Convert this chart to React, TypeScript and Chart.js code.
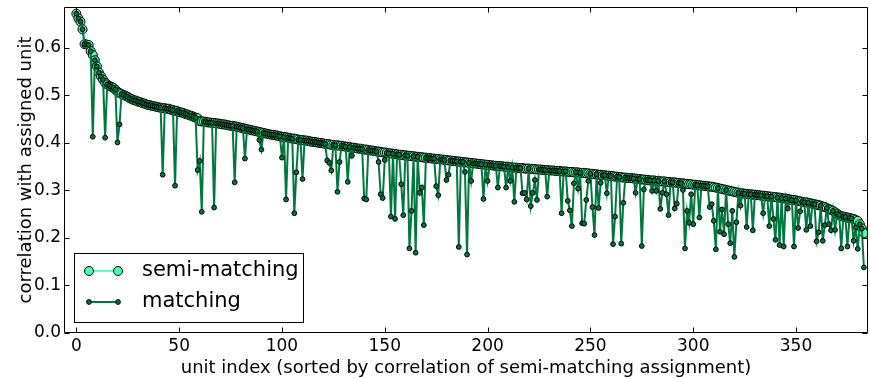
import React, { useEffect, useRef } from 'react';
import { Chart, registerables } from 'chart.js';

Chart.register(...registerables);

// semi-matching correlation, sorted (unit index 0..383)
const SEMI: number[] = [
  0.672, 0.662, 0.655, 0.639, 0.608, 0.607, 0.606, 0.593, 0.585, 0.574,
  0.561, 0.548, 0.540, 0.533, 0.527, 0.523, 0.520, 0.518, 0.516, 0.512,
  0.508, 0.505, 0.503, 0.501, 0.499, 0.497, 0.494, 0.492, 0.490, 0.489,
  0.487, 0.486, 0.484, 0.483, 0.481, 0.480, 0.479, 0.478, 0.477, 0.476,
  0.475, 0.474, 0.473, 0.473, 0.472, 0.472, 0.470, 0.469, 0.468, 0.467,
  0.465, 0.464, 0.463, 0.461, 0.460, 0.458, 0.457, 0.455, 0.453, 0.452,
  0.446, 0.445, 0.445, 0.444, 0.443, 0.443, 0.442, 0.442, 0.441, 0.441,
  0.440, 0.439, 0.439, 0.438, 0.437, 0.436, 0.436, 0.435, 0.434, 0.433,
  0.432, 0.431, 0.430, 0.429, 0.428, 0.427, 0.426, 0.425, 0.424, 0.423,
  0.422, 0.421, 0.420, 0.419, 0.418, 0.417, 0.417, 0.416, 0.415, 0.414,
  0.413, 0.412, 0.412, 0.411, 0.410, 0.409, 0.409, 0.408, 0.407, 0.406,
  0.406, 0.405, 0.405, 0.404, 0.403, 0.402, 0.402, 0.401, 0.400, 0.400,
  0.399, 0.398, 0.398, 0.397, 0.396, 0.396, 0.395, 0.395, 0.394, 0.394,
  0.393, 0.392, 0.392, 0.391, 0.390, 0.390, 0.389, 0.388, 0.388, 0.387,
  0.386, 0.386, 0.385, 0.384, 0.384, 0.383, 0.382, 0.382, 0.381, 0.380,
  0.380, 0.379, 0.378, 0.378, 0.377, 0.377, 0.376, 0.375, 0.375, 0.374,
  0.374, 0.373, 0.373, 0.372, 0.372, 0.371, 0.371, 0.370, 0.370, 0.369,
  0.369, 0.368, 0.368, 0.367, 0.367, 0.366, 0.366, 0.365, 0.365, 0.364,
  0.364, 0.363, 0.363, 0.362, 0.362, 0.361, 0.361, 0.360, 0.360, 0.359,
  0.359, 0.358, 0.358, 0.357, 0.357, 0.356, 0.356, 0.355, 0.355, 0.354,
  0.354, 0.353, 0.353, 0.352, 0.352, 0.351, 0.351, 0.351, 0.350, 0.350,
  0.349, 0.349, 0.348, 0.348, 0.348, 0.347, 0.347, 0.347, 0.346, 0.346,
  0.346, 0.345, 0.345, 0.345, 0.344, 0.344, 0.344, 0.343, 0.343, 0.343,
  0.342, 0.342, 0.342, 0.341, 0.341, 0.341, 0.340, 0.340, 0.340, 0.339,
  0.339, 0.339, 0.338, 0.338, 0.338, 0.337, 0.337, 0.337, 0.336, 0.336,
  0.335, 0.335, 0.334, 0.334, 0.333, 0.333, 0.332, 0.332, 0.331, 0.331,
  0.330, 0.330, 0.329, 0.329, 0.328, 0.328, 0.327, 0.327, 0.326, 0.326,
  0.326, 0.325, 0.325, 0.324, 0.324, 0.323, 0.323, 0.322, 0.322, 0.321,
  0.321, 0.321, 0.320, 0.320, 0.319, 0.319, 0.319, 0.318, 0.318, 0.317,
  0.317, 0.317, 0.316, 0.316, 0.315, 0.315, 0.314, 0.314, 0.313, 0.313,
  0.312, 0.312, 0.311, 0.311, 0.310, 0.310, 0.309, 0.309, 0.308, 0.308,
  0.307, 0.306, 0.305, 0.304, 0.303, 0.302, 0.301, 0.300, 0.299, 0.298,
  0.297, 0.296, 0.295, 0.294, 0.294, 0.293, 0.293, 0.292, 0.292, 0.291,
  0.291, 0.290, 0.290, 0.289, 0.289, 0.288, 0.288, 0.287, 0.287, 0.286,
  0.286, 0.285, 0.285, 0.284, 0.283, 0.283, 0.282, 0.281, 0.280, 0.280,
  0.279, 0.278, 0.277, 0.276, 0.275, 0.275, 0.274, 0.273, 0.272, 0.271,
  0.270, 0.269, 0.268, 0.266, 0.265, 0.263, 0.261, 0.259, 0.257, 0.254,
  0.251, 0.248, 0.246, 0.245, 0.244, 0.243, 0.242, 0.241, 0.240, 0.238,
  0.236, 0.229, 0.220, 0.210,
];

// units where the (one-to-one) matching assignment differs from semi-matching
const DIP_INDEX: number[] = [
  8, 14, 20, 21, 42, 48, 59, 60, 61, 67, 77, 82, 89, 90, 100, 102, 106, 107, 110,
  122, 123, 124, 127, 128, 132, 134, 140, 141, 147, 148, 149, 150, 153, 155, 158,
  159, 162, 163, 165, 167, 168, 169, 175, 176, 180, 181, 186, 189, 190, 192, 198,
  200, 205, 209, 211, 213, 217, 218, 219, 221, 222, 223, 224, 229, 236, 239, 240,
  241, 242, 244, 246, 247, 248, 249, 251, 252, 254, 255, 258, 261, 262, 265, 266,
  272, 275, 276, 280, 282, 284, 285, 287, 288, 291, 292, 295, 296, 297, 298, 299,
  300, 303, 308, 309, 310, 311, 313, 314, 315, 317, 318, 319, 320, 321, 323, 326,
  329, 334, 337, 339, 340, 342, 344, 346, 349, 351, 352, 355, 357, 360, 361, 363,
  364, 366, 367, 369, 372, 375, 378, 379, 380, 383,
];
const DIP_VALUE: number[] = [
  0.413, 0.411, 0.401, 0.439, 0.333, 0.310, 0.343, 0.362, 0.255, 0.264, 0.317, 0.367, 0.406, 0.386, 0.369, 0.281, 0.252, 0.338, 0.324,
  0.363, 0.358, 0.342, 0.297, 0.360, 0.318, 0.373, 0.283, 0.281, 0.360, 0.292, 0.284, 0.364, 0.245, 0.240, 0.313,
  0.248, 0.178, 0.257, 0.169, 0.295, 0.306, 0.227, 0.309, 0.290, 0.322, 0.333, 0.181, 0.339, 0.165, 0.320, 0.282,
  0.320, 0.306, 0.306, 0.320, 0.276, 0.294, 0.295, 0.281, 0.267, 0.295, 0.322, 0.280, 0.287, 0.252, 0.278, 0.258,
  0.225, 0.315, 0.304, 0.231, 0.230, 0.280, 0.320, 0.265, 0.206, 0.263, 0.316, 0.294, 0.187, 0.245, 0.188, 0.274,
  0.295, 0.183, 0.302, 0.299, 0.299, 0.261, 0.295, 0.292, 0.248, 0.262, 0.272, 0.301, 0.178, 0.257, 0.232, 0.292,
  0.229, 0.243, 0.265, 0.271, 0.236, 0.176, 0.213, 0.260, 0.208, 0.229, 0.189, 0.257, 0.160, 0.233, 0.268, 0.223,
  0.216, 0.252, 0.225, 0.240, 0.196, 0.185, 0.182, 0.262, 0.182, 0.221, 0.256, 0.217, 0.225, 0.193, 0.212, 0.194,
  0.227, 0.229, 0.216, 0.217, 0.178, 0.182, 0.194, 0.222, 0.177, 0.138,
];

const X_TICKS: number[] = [0, 50, 100, 150, 200, 250, 300, 350];
const Y_TICKS: number[] = [0.0, 0.1, 0.2, 0.3, 0.4, 0.5, 0.6];
const SERIES_LABELS: string[] = ['semi-matching', 'matching'];
const X_TITLE = 'unit index (sorted by correlation of semi-matching assignment)';
const Y_TITLE = 'correlation with assigned unit';

const MATCHING: number[] = SEMI.map((v, i) => {
  const k = DIP_INDEX.indexOf(i);
  return k >= 0 ? DIP_VALUE[k] : v;
});

const SEMI_FILL = '#4dfcb2';
const SEMI_LINE = '#5effbe';
const MATCH_COLOR = '#00773f';
const FONT = 'DejaVu Sans';

const framePlugin = {
  id: 'frameTicks',
  afterDatasetsDraw(chart: any) {
    const { ctx, chartArea } = chart;
    const { left, right, top, bottom } = chartArea;
    const xs = chart.scales.x;
    const ys = chart.scales.y;
    const L = Math.round(left) + 0.5;
    const R = Math.round(right) - 0.5;
    const T = Math.round(top) + 0.5;
    const B = Math.round(bottom) - 0.5;
    ctx.save();
    ctx.strokeStyle = '#000';
    ctx.lineWidth = 1;
    ctx.beginPath();
    ctx.rect(L, T, R - L, B - T);
    const tl = 5;
    X_TICKS.forEach((v) => {
      const px = Math.round(xs.getPixelForValue(v)) + 0.5;
      ctx.moveTo(px, B);
      ctx.lineTo(px, B - tl);
      ctx.moveTo(px, T);
      ctx.lineTo(px, T + tl);
    });
    Y_TICKS.forEach((v) => {
      const py = Math.round(ys.getPixelForValue(v)) + 0.5;
      ctx.moveTo(L, py);
      ctx.lineTo(L + tl, py);
      ctx.moveTo(R, py);
      ctx.lineTo(R - tl, py);
    });
    ctx.stroke();

    // legend
    const bx = 74.5, by = 253.5, bw = 229, bh = 69;
    ctx.fillStyle = '#fff';
    ctx.fillRect(bx, by, bw, bh);
    ctx.strokeStyle = '#000';
    ctx.strokeRect(bx, by, bw, bh);
    const x1 = 89, x2 = 118, tx = 142;
    const rows = [
      { y: 271, line: SEMI_LINE, fill: SEMI_FILL, r: 4.5, lw: 2 },
      { y: 302, line: MATCH_COLOR, fill: MATCH_COLOR, r: 2.4, lw: 2 },
    ];
    rows.forEach((row, i) => {
      ctx.strokeStyle = row.line;
      ctx.lineWidth = row.lw;
      ctx.beginPath();
      ctx.moveTo(x1, row.y);
      ctx.lineTo(x2, row.y);
      ctx.stroke();
      [x1, x2].forEach((cx) => {
        ctx.beginPath();
        ctx.arc(cx, row.y, row.r, 0, Math.PI * 2);
        ctx.fillStyle = row.fill;
        ctx.fill();
        ctx.strokeStyle = '#000';
        ctx.lineWidth = 1;
        ctx.stroke();
      });
      ctx.fillStyle = '#000';
      ctx.font = `21px "${FONT}"`;
      ctx.textBaseline = 'middle';
      ctx.textAlign = 'left';
      ctx.fillText(SERIES_LABELS[i], tx, row.y);
    });
    ctx.restore();
  },
};

export default function App() {
  const ref = useRef<HTMLCanvasElement | null>(null);
  useEffect(() => {
    if (!ref.current) return;
    Chart.defaults.font.family = FONT;
    const chart = new Chart(ref.current, {
      type: 'line',
      data: {
        datasets: [
          {
            label: SERIES_LABELS[0],
            data: SEMI.map((v, i) => ({ x: i, y: v })),
            borderColor: SEMI_LINE,
            borderWidth: 2,
            backgroundColor: SEMI_FILL,
            pointBackgroundColor: SEMI_FILL,
            pointBorderColor: '#000',
            pointBorderWidth: 1,
            pointRadius: 4.5,
            tension: 0,
            order: 2,
          },
          {
            label: SERIES_LABELS[1],
            data: MATCHING.map((v, i) => ({ x: i, y: v })),
            borderColor: MATCH_COLOR,
            borderWidth: 2,
            backgroundColor: MATCH_COLOR,
            pointBackgroundColor: MATCH_COLOR,
            pointBorderColor: '#000',
            pointBorderWidth: 1,
            pointRadius: 2.4,
            tension: 0,
            order: 1,
          },
        ],
      },
      options: {
        animation: false,
        responsive: false,
        devicePixelRatio: 1,
        layout: { autoPadding: false, padding: { top: 7, right: 2, left: 0, bottom: 0 } },
        plugins: { legend: { display: false }, tooltip: { enabled: false } },
        scales: {
          x: {
            type: 'linear',
            min: -6,
            max: 385,
            grid: { display: false, drawTicks: false },
            border: { display: false },
            afterBuildTicks: (s: any) => {
              s.ticks = X_TICKS.map((v) => ({ value: v }));
            },
            afterFit: (s: any) => {
              s.height = 46;
              s.paddingLeft = 0;
              s.paddingRight = 0;
            },
            ticks: {
              color: '#000',
              font: { size: 17 },
              padding: 3,
              maxRotation: 0,
              autoSkip: false,
              callback: (v: any) => String(v),
            },
            title: {
              display: true,
              text: X_TITLE,
              color: '#000',
              font: { size: 18 },
              padding: { top: 0, bottom: 0 },
            },
          },
          y: {
            type: 'linear',
            min: 0,
            max: 0.686,
            grid: { display: false, drawTicks: false },
            border: { display: false },
            afterBuildTicks: (s: any) => {
              s.ticks = Y_TICKS.map((v) => ({ value: v }));
            },
            afterFit: (s: any) => {
              s.width = 64;
              s.paddingTop = 0;
              s.paddingBottom = 0;
            },
            ticks: {
              color: '#000',
              font: { size: 17 },
              padding: 3,
              autoSkip: false,
              callback: (v: any) => Number(v).toFixed(1),
            },
            title: {
              display: true,
              text: Y_TITLE,
              color: '#000',
              font: { size: 18 },
              padding: { top: 16, bottom: 0 },
            },
          },
        },
      },
      plugins: [framePlugin],
    });
    return () => chart.destroy();
  }, []);
  return (
    <div style={{ position: 'absolute', left: 0, top: 0, width: 870, height: 379, background: '#fff' }}>
      <canvas ref={ref} width={870} height={379} style={{ display: 'block' }} />
    </div>
  );
}
